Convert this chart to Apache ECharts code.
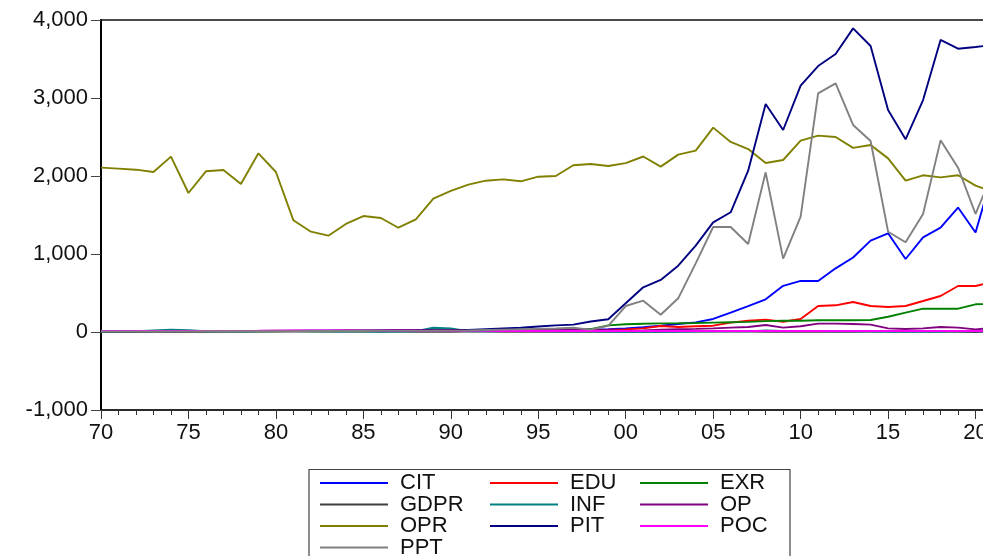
<!DOCTYPE html>
<html>
<head>
<meta charset="utf-8">
<script src="https://cdn.jsdelivr.net/npm/echarts@6/dist/echarts.min.js"></script>
<style>
html,body{margin:0;padding:0;background:#fff;}
#chart{width:983px;height:556px;}
</style>
</head>
<body>
<div id="chart"></div>
<script>
const years = [];
for (let y = 1970; y <= 2021; y++) years.push(y);

const seriesNames = ['CIT','EDU','EXR','GDPR','INF','OP','OPR','PIT','POC','PPT'];
const seriesColors = ['#0000FF','#FF0000','#008000','#404040','#008080','#800080','#808000','#000080','#FF00FF','#808080'];

const CIT = [10,10,11,11,12,12,13,13,14,14,15,15,16,16,17,18,18,19,20,20,21,22,23,24,25,26,27,28,30,35,47,60,81,103,124,167,248,333,419,592,656,654,816,955,1171,1265,936,1214,1338,1596,1276,2050];
const EDU = [8,8,8,9,9,9,10,10,10,11,11,11,12,12,12,13,13,13,14,14,15,16,17,18,19,20,22,24,26,28,34,47,77,64,73,81,120,145,158,132,167,333,342,385,333,321,333,397,462,590,590,640];
const EXR = [5,5,5,10,10,10,10,10,10,10,10,11,13,14,16,16,17,18,19,21,22,24,26,28,30,31,34,38,35,85,100,105,110,112,115,120,125,130,140,145,145,150,150,150,154,195,248,299,299,299,355,362];
const GDPR = [5,4,3,5,6,5,4,5,6,5,6,6,5,6,5,6,5,5,4,5,4,5,6,4,3,5,4,2,3,4,4,2,3,5,7,6,6,5,2,1,2,3,4,4,5,5,5,5,5,2,0,4];
const INF = [5,6,10,20,28,22,10,8,7,9,12,13,10,7,8,6,4,5,10,55,45,10,10,12,15,12,10,11,8,6,4,3,3,3,7,9,8,8,20,15,12,12,10,8,7,3,3,4,4,10,10,9];
const OP = [12,12,12,13,13,13,14,14,15,15,16,17,18,18,19,20,20,22,23,24,25,26,27,28,28,29,30,30,30,25,15,21,30,35,40,47,56,64,90,56,73,107,107,103,94,47,38,47,64,56,34,50];
const OPR = [2107,2094,2081,2051,2248,1782,2060,2077,1897,2291,2051,1432,1286,1235,1385,1487,1462,1337,1444,1709,1808,1889,1940,1957,1932,1991,2000,2137,2154,2128,2165,2250,2120,2274,2325,2620,2436,2346,2167,2205,2453,2517,2500,2360,2397,2226,1940,2009,1983,2009,1876,1795];
const PIT = [8,8,9,9,10,10,11,11,12,12,13,13,14,14,15,15,16,16,16,17,18,25,35,45,55,70,85,95,135,163,368,573,667,850,1107,1406,1535,2068,2923,2590,3158,3410,3564,3893,3667,2846,2470,2974,3744,3632,3654,3680];
const POC = [14,14,14,14,14,14,14,14,15,16,18,20,20,20,20,18,17,17,16,15,14,14,14,13,13,13,13,13,13,13,12,12,12,12,12,12,12,12,12,12,12,12,12,12,12,12,12,12,12,12,12,12];
const PPT = [6,6,7,7,8,8,9,9,10,10,11,11,12,12,13,13,14,14,15,16,18,20,25,30,35,40,45,55,30,80,333,402,222,432,880,1346,1346,1128,2047,940,1479,3060,3188,2654,2449,1286,1150,1513,2457,2107,1513,2050];

const yTicks = {min: -1000, max: 4000, interval: 1000};
const xTicks = {min: 1970, max: 2025, interval: 5};

const dataMap = {CIT, EDU, EXR, GDPR, INF, OP, OPR, PIT, POC, PPT};

const legendColumns = [
  ['CIT','GDPR','OPR','PPT'],
  ['EDU','INF','PIT'],
  ['EXR','OP','POC']
];
const legendLefts = [320, 490, 640];

const chart = echarts.init(document.getElementById('chart'));
const font = 'Liberation Sans, Arial, Helvetica, sans-serif';

const series = seriesNames.map((n, i) => ({
  name: n,
  type: 'line',
  symbol: 'none',
  data: years.map((y, k) => [y, dataMap[n][k]]),
  lineStyle: {color: seriesColors[i], width: 1.9},
  itemStyle: {color: seriesColors[i]},
  emphasis: {disabled: true},
  animation: false,
  clip: true
}));

const legends = legendColumns.map((col, ci) => ({
  orient: 'vertical',
  left: legendLefts[ci],
  top: 472,
  width: 160,
  height: 120,
  padding: 0,
  data: col,
  icon: 'rect',
  itemWidth: 68,
  itemHeight: 1.8,
  itemGap: -0.5,
  selectedMode: false,
  textStyle: {fontFamily: font, fontSize: 22, color: '#111', padding: [0,0,0,7]}
}));

chart.setOption({
  animation: false,
  backgroundColor: '#fff',
  grid: {left: 101, top: 20, width: 962, height: 390, outerBoundsMode: 'none', containLabel: false,
    show: true, borderColor: '#111', borderWidth: 1.5, backgroundColor: 'transparent'},
  xAxis: {
    type: 'value',
    min: xTicks.min,
    max: xTicks.max,
    interval: xTicks.interval,
    axisLine: {show: true, onZero: false, lineStyle: {color: '#222', width: 1.5}},
    axisTick: {show: true, length: 9, lineStyle: {color: '#333', width: 1}},
    minorTick: {show: true, splitNumber: 5, length: 5, lineStyle: {color: '#333', width: 1}},
    splitLine: {show: false},
    axisLabel: {fontFamily: font, fontSize: 22, color: '#111', margin: 12, hideOverlap: false,
      formatter: v => String(v % 100).padStart(2, '0')}
  },
  yAxis: {
    type: 'value',
    min: yTicks.min,
    max: yTicks.max,
    interval: yTicks.interval,
    axisLine: {show: true, lineStyle: {color: '#000', width: 2}},
    axisTick: {show: true, length: 10, lineStyle: {color: '#444', width: 1}},
    splitLine: {show: false},
    axisLabel: {fontFamily: font, fontSize: 22, color: '#111', margin: 13,
      formatter: v => v.toLocaleString('en-US')}
  },
  legend: legends,
  graphic: [{
    type: 'rect',
    left: 306.5, top: 467,
    shape: {width: 481, height: 100},
    style: {fill: 'none', stroke: '#444', lineWidth: 1.2},
    silent: true
  }],
  series: series
});
</script>
</body>
</html>
